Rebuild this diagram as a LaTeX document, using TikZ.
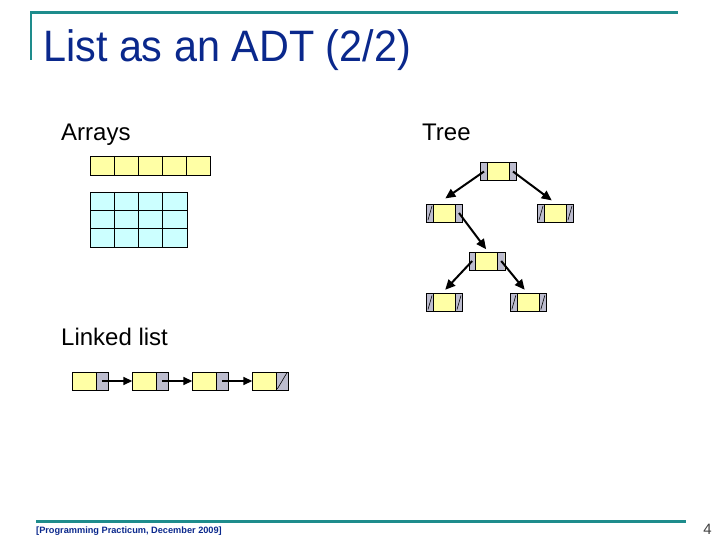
\documentclass[tikz,border=0pt]{standalone}
\usepackage{fontspec}
\setmainfont{Liberation Sans}
\usetikzlibrary{arrows.meta}
\definecolor{ylw}{RGB}{255,255,165}
\definecolor{gry}{RGB}{188,188,206}
\definecolor{cyn}{RGB}{204,255,255}
\definecolor{ttl}{RGB}{10,40,140}
\definecolor{teal2}{RGB}{30,140,140}
\tikzset{
  tnode/.style={draw, fill=ylw, minimum width=36bp, minimum height=18bp, inner sep=0pt, outer sep=0pt,
    path picture={
      \fill[gry] (path picture bounding box.south west) rectangle ([xshift=7bp]path picture bounding box.north west);
      \fill[gry] (path picture bounding box.south east) rectangle ([xshift=-7bp]path picture bounding box.north east);
      \draw[line width=0.7bp] ([xshift=7bp]path picture bounding box.south west) -- ([xshift=7bp]path picture bounding box.north west);
      \draw[line width=0.7bp] ([xshift=-7bp]path picture bounding box.south east) -- ([xshift=-7bp]path picture bounding box.north east);
    }},
  lnode/.style={draw, fill=ylw, minimum width=36bp, minimum height=18bp, inner sep=0pt, outer sep=0pt,
    path picture={
      \fill[gry] (path picture bounding box.south east) rectangle ([xshift=-12bp]path picture bounding box.north east);
      \draw[line width=0.7bp] ([xshift=-12bp]path picture bounding box.south east) -- ([xshift=-12bp]path picture bounding box.north east);
    }},
  tarrow/.style={line width=2bp, -{Triangle[length=10bp,width=9bp]}, shorten >=1bp},
  larrow/.style={line width=1.6bp, -{Triangle[length=9bp,width=8bp]}},
  slash/.style={line width=0.6bp},
  lbl/.style={font=\fontsize{24bp}{28bp}\selectfont, anchor=base west, inner sep=0pt},
  cellgrid/.style={line width=0.8bp}
}
\newcommand\lsl[1]{\draw[slash] ([xshift=1.5bp,yshift=2bp]#1.south west) -- ([xshift=5.5bp,yshift=-2bp]#1.north west);}
\newcommand\rsl[1]{\draw[slash] ([xshift=-5.5bp,yshift=2bp]#1.south east) -- ([xshift=-1.5bp,yshift=-2bp]#1.north east);}
\begin{document}
\begin{tikzpicture}[x=1bp,y=-1bp]
\useasboundingbox (0,0) rectangle (720,540);
% title frame
\draw[teal2, line width=2.5bp] (31,60) -- (31,12.5) -- (678,12.5);
\node[anchor=base west, inner sep=0pt, text=ttl, font=\fontsize{44bp}{50bp}\selectfont, xscale=0.94] (title) at (43,62) {List as an ADT (2/2)};
% labels
\node[lbl] (arrays) at (61,141) {Arrays};
\node[lbl] (tree) at (422,141) {Tree};
\node[lbl] (ll) at (61,345) {Linked list};
% 1D array
\fill[ylw] (90,156) rectangle (210,175);
\draw[cellgrid] (90,156) rectangle (210,175);
\foreach \i in {1,...,4} \draw[cellgrid] (90+24*\i,156) -- (90+24*\i,175);
% 2D array
\fill[cyn] (90,192) rectangle (187,247);
\draw[cellgrid] (90,192) rectangle (187,247);
\foreach \i in {1,2,3} \draw[cellgrid] (90+24.25*\i,192) -- (90+24.25*\i,247);
\foreach \j in {1,2} \draw[cellgrid] (90,192+18.33*\j) -- (187,192+18.33*\j);
% tree
\node[tnode] (root) at (498.5,171.5) {};
\node[tnode] (tl) at (444.5,213) {};
\node[tnode] (tr) at (555.5,213) {};
\node[tnode] (tm) at (486.7,261) {};
\node[tnode] (bl) at (444.5,302.5) {};
\node[tnode] (br) at (528.3,302.5) {};
\lsl{tl}
\lsl{tr}\rsl{tr}
\lsl{bl}\rsl{bl}
\lsl{br}\rsl{br}
\draw[tarrow] ([xshift=3.5bp]root.west) -- ([yshift=5bp]tl.north);
\draw[tarrow] ([xshift=-3.5bp]root.east) -- ([xshift=-3bp,yshift=3bp]tr.north);
\draw[tarrow] ([xshift=-3.5bp]tl.east) -- ([yshift=2bp]tm.north);
\draw[tarrow] ([xshift=3.5bp]tm.west) -- ([yshift=3bp]bl.north);
\draw[tarrow] ([xshift=-3.5bp]tm.east) -- ([xshift=-3bp,yshift=3bp]br.north);
% linked list
\node[lnode] (n1) at (90.3,381) {};
\node[lnode] (n2) at (150.3,381) {};
\node[lnode] (n3) at (210.3,381) {};
\node[lnode] (n4) at (270.3,381) {};
\draw[slash] ([xshift=-11bp,yshift=1bp]n4.south east) -- ([xshift=-1.5bp,yshift=-1bp]n4.north east);
\draw[larrow] ([xshift=-6bp]n1.east) -- (n2.west);
\draw[larrow] ([xshift=-6bp]n2.east) -- (n3.west);
\draw[larrow] ([xshift=-6bp]n3.east) -- (n4.west);
% footer
\draw[teal2, line width=3bp] (36,521.5) -- (686,521.5);
\node[anchor=base west, inner sep=0pt, text=ttl, font=\bfseries\fontsize{9.2bp}{10bp}\selectfont] (foot) at (36,533) {[Programming Practicum, December 2009]};
\node[anchor=base east, inner sep=0pt, text=black!75, font=\fontsize{15bp}{17bp}\selectfont] (pg) at (712,534) {4};
\end{tikzpicture}
\end{document}
